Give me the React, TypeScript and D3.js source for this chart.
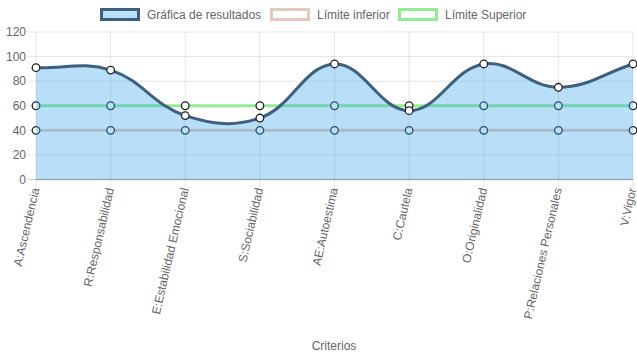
import React from "react";
import * as d3 from "d3";

const categories = [
  "A:Ascendencia",
  "R:Responsabilidad",
  "E:Estabilidad Emocional",
  "S:Sociabilidad",
  "AE:Autoestima",
  "C:Cautela",
  "O:Originalidad",
  "P:Relaciones Personales",
  "V:Vigor",
];
const resultados = [91, 89, 52, 50, 94, 56, 94, 75, 94];
const limiteInferior = [40, 40, 40, 40, 40, 40, 40, 40, 40];
const limiteSuperior = [60, 60, 60, 60, 60, 60, 60, 60, 60];
const yTicks = [0, 20, 40, 60, 80, 100, 120];

const W = 637;
const H = 359;
const FONT = "Arial, 'Liberation Sans', Helvetica, sans-serif";

const x = d3.scalePoint<string>().domain(categories).range([36, 633]);
const y = d3.scaleLinear().domain([0, 120]).range([179.5, 32]);

type Pt = [number, number];

// Chart.js style spline (tension 0.4)
function splinePath(pts: Pt[], t = 0.4, close?: { base: number }) {
  const p = d3.path();
  const cps: { prev: Pt; next: Pt }[] = pts.map((cur, i) => {
    const prev = i > 0 ? pts[i - 1] : cur;
    const next = i < pts.length - 1 ? pts[i + 1] : cur;
    const d01 = Math.hypot(cur[0] - prev[0], cur[1] - prev[1]);
    const d12 = Math.hypot(next[0] - cur[0], next[1] - cur[1]);
    let s01 = d01 / (d01 + d12);
    let s12 = d12 / (d01 + d12);
    if (isNaN(s01)) s01 = 0;
    if (isNaN(s12)) s12 = 0;
    const fa = t * s01;
    const fb = t * s12;
    return {
      prev: [cur[0] - fa * (next[0] - prev[0]), cur[1] - fa * (next[1] - prev[1])],
      next: [cur[0] + fb * (next[0] - prev[0]), cur[1] + fb * (next[1] - prev[1])],
    };
  });
  p.moveTo(pts[0][0], pts[0][1]);
  for (let i = 1; i < pts.length; i++) {
    const a = cps[i - 1].next;
    const b = cps[i].prev;
    p.bezierCurveTo(a[0], a[1], b[0], b[1], pts[i][0], pts[i][1]);
  }
  if (close) {
    p.lineTo(pts[pts.length - 1][0], close.base);
    p.lineTo(pts[0][0], close.base);
    p.closePath();
  }
  return p.toString();
}

const toPts = (vals: number[]): Pt[] => vals.map((v, i) => [x(categories[i]) as number, y(v)]);

const legendItems = [
  { label: "Gráfica de resultados", fill: "rgba(54,162,235,0.35)", stroke: "#3d5f80", bx: 100 },
  { label: "Límite inferior", fill: "#ffffff", stroke: "#e5c8bc", bx: 270 },
  { label: "Límite Superior", fill: "#ffffff", stroke: "#90ee90", bx: 398 },
];

function Points({ vals }: { vals: number[] }) {
  return (
    <g>
      {toPts(vals).map((p, i) => (
        <circle key={i} cx={p[0]} cy={p[1]} r={3.8} fill="#fff" stroke="#222" strokeWidth={1.3} />
      ))}
    </g>
  );
}

export default function App() {
  const resPts = toPts(resultados);
  const infPts = toPts(limiteInferior);
  const supPts = toPts(limiteSuperior);
  const line = d3.line<Pt>();
  return (
    <svg width={W} height={H} style={{ position: "absolute", left: 0, top: 0 }} fontFamily={FONT}>
      {/* grid */}
      {yTicks.map((t) => (
        <g key={t}>
          <line x1={28} x2={633} y1={y(t)} y2={y(t)} stroke={t === 0 ? "rgba(0,0,0,0.2)" : "rgba(0,0,0,0.1)"} strokeWidth={1} />
          <text x={26} y={y(t)} dy="0.35em" textAnchor="end" fontSize={12} fill="#666">
            {t}
          </text>
        </g>
      ))}
      {categories.map((c) => (
        <line key={c} x1={x(c)} x2={x(c)} y1={32} y2={189} stroke="rgba(0,0,0,0.1)" />
      ))}
      <line x1={36} x2={633} y1={y(0)} y2={y(0)} stroke="rgba(0,0,0,0.2)" strokeWidth={1.5} />
      {/* limite superior */}
      <path d={line(supPts) as string} fill="none" stroke="#90ee90" strokeWidth={3} />
      <Points vals={limiteSuperior} />
      {/* limite inferior */}
      <path d={line(infPts) as string} fill="none" stroke="#e5c8bc" strokeWidth={3} />
      <Points vals={limiteInferior} />
      {/* resultados */}
      <path d={splinePath(resPts, 0.4, { base: y(0) })} fill="rgba(54,162,235,0.35)" stroke="none" />
      <path d={splinePath(resPts, 0.4)} fill="none" stroke="#3d5f80" strokeWidth={3} />
      <Points vals={resultados} />
      {/* x labels */}
      {categories.map((c) => (
        <text
          key={c}
          transform={`translate(${(x(c) as number) + 3.5},${189}) rotate(-77)`}
          textAnchor="end"
          fontSize={12}
          fill="#666"
        >
          {c}
        </text>
      ))}
      <text x={334} y={350} textAnchor="middle" fontSize={12} fill="#666">
        Criterios
      </text>
      {/* legend */}
      {legendItems.map((it) => (
        <g key={it.label}>
          <rect x={it.bx + 1.5} y={9.5} width={37} height={10} fill={it.fill} stroke={it.stroke} strokeWidth={3} />
          <text x={it.bx + 47} y={15} dy="0.35em" fontSize={12} fill="#666">
            {it.label}
          </text>
        </g>
      ))}
    </svg>
  );
}
